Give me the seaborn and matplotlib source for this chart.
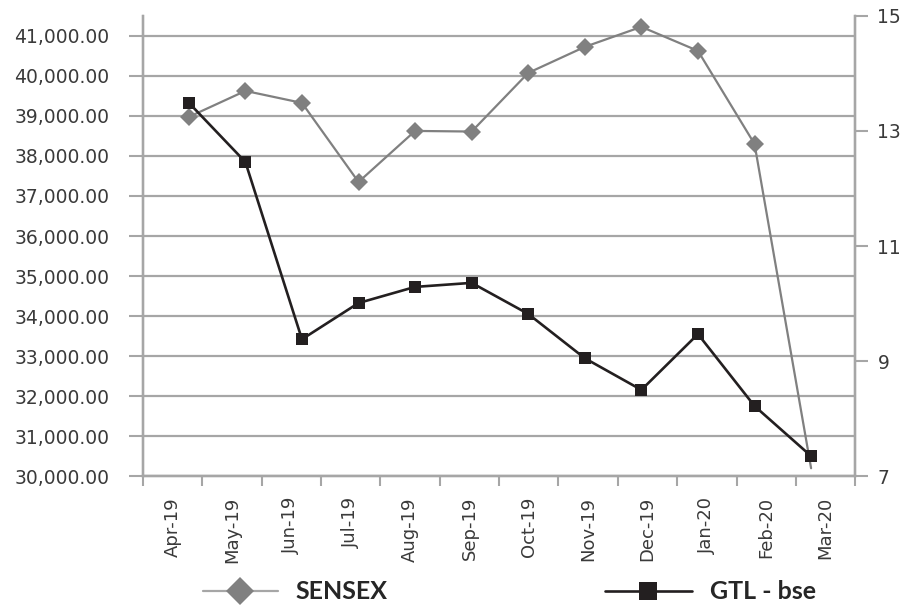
import matplotlib
matplotlib.use('Agg')
import matplotlib.pyplot as plt
import matplotlib.ticker as mticker
import seaborn as sns
import pandas as pd
import numpy as np

months = ['Apr-19', 'May-19', 'Jun-19', 'Jul-19', 'Aug-19', 'Sep-19',
          'Oct-19', 'Nov-19', 'Dec-19', 'Jan-20', 'Feb-20', 'Mar-20']
sensex = [38975, 39625, 39325, 37350, 38625, 38610,
          40075, 40725, 41225, 40625, 38300, 30200]
gtl_bse = [13.49, 12.46, 9.38, 10.01, 10.29, 10.36,
           9.82, 9.05, 8.50, 9.47, 8.22, 7.35]

df = pd.DataFrame({'month': months, 'SENSEX': sensex, 'GTL - bse': gtl_bse})
df['pos'] = np.arange(len(months))

sns.set_style('white')
plt.rcParams['font.family'] = ['DejaVu Sans']

grid_col = '#a6a6a6'
text_col = '#3a3a3a'
fig = plt.figure(figsize=(9.05, 6.09), dpi=100)
ax = fig.add_axes([0.158, 0.218, 0.787, 0.756])
ax2 = ax.twinx()
# category axis (tick marks between months, labels at the bottom)
ax3 = ax.twiny()

sns.lineplot(data=df, x='pos', y='SENSEX', ax=ax, color='#808080',
             linewidth=1.6, marker='D', markersize=9, markeredgewidth=0,
             markevery=list(range(len(months) - 1)), zorder=3)
sns.lineplot(data=df, x='pos', y='GTL - bse', ax=ax2, color='#231f20',
             linewidth=1.9, marker='s', markersize=8, markeredgewidth=0, zorder=3)

# the lines in the original sit slightly inside the category slots
ax.set_xlim(-0.81, 11.78)
ax.set_ylim(30000, 41500)
ax.set_yticks(np.arange(30000, 41001, 1000))
ax.yaxis.set_major_formatter(mticker.FuncFormatter(lambda v, p: f'{v:,.2f}'))
ax2.set_ylim(7, 15)
ax2.set_yticks([7, 9, 11, 13, 15])
ax.set_xticks([])

ax3.set_xlim(-0.5, len(months) - 0.5)
ax3.xaxis.set_ticks_position('bottom')
ax3.xaxis.set_label_position('bottom')
ax3.set_xticks(np.arange(len(months)))
ax3.set_xticklabels(months, rotation=90)
ax3.set_xticks(np.arange(-0.5, len(months), 1), minor=True)
ax3.tick_params(axis='x', which='major', length=0, labelsize=13,
                labelcolor=text_col, pad=15)
ax3.tick_params(axis='x', which='minor', length=7.5, width=1.5, color=grid_col)

ax.tick_params(axis='y', length=10, width=1.5, color=grid_col,
               labelsize=13.5, labelcolor=text_col, pad=14)
ax2.tick_params(axis='y', length=9, width=1.5, color=grid_col,
                labelsize=13.5, labelcolor=text_col, pad=7)

ax.grid(axis='y', color=grid_col, linewidth=1.6)
ax.set_axisbelow(True)
for a in (ax, ax2, ax3):
    a.set_xlabel('')
    a.set_ylabel('')
    a.spines['top'].set_visible(False)
    for s in ('left', 'right', 'bottom'):
        a.spines[s].set_color(grid_col)
        a.spines[s].set_linewidth(1.6)

leg_s = plt.Line2D([], [], color='#a6a6a6', linewidth=1.6, marker='D',
                   markersize=14, markerfacecolor='#808080', markeredgewidth=0)
leg_g = plt.Line2D([], [], color='#231f20', linewidth=1.9, marker='s',
                   markersize=13, markerfacecolor='#231f20', markeredgewidth=0)
leg_font = {'weight': 'bold', 'size': 18, 'family': ['Lato', 'DejaVu Sans']}
fig.legend([leg_s], ['SENSEX'], loc='center left', bbox_to_anchor=(0.224, 0.028),
           frameon=False, handlelength=3.0, handletextpad=0.7,
           borderpad=0, borderaxespad=0, prop=leg_font)
fig.legend([leg_g], ['GTL - bse'], loc='center left', bbox_to_anchor=(0.668, 0.028),
           frameon=False, handlelength=3.5, handletextpad=0.7,
           borderpad=0, borderaxespad=0, prop=leg_font)

fig.savefig('out.png', dpi=100)
